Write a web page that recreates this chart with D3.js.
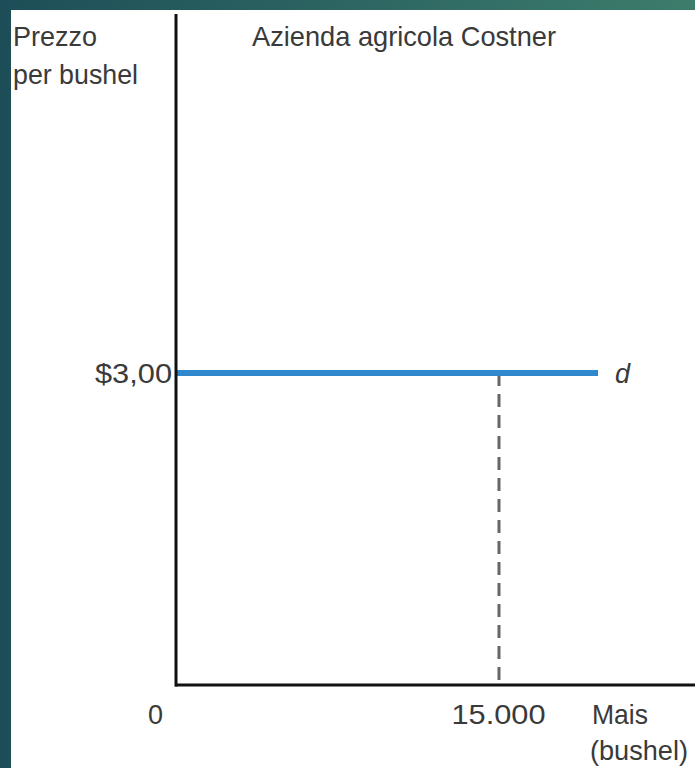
<!DOCTYPE html>
<html><head><meta charset="utf-8">
<script src="https://cdn.jsdelivr.net/npm/d3@7"></script>
<style>html,body{margin:0;padding:0;overflow:hidden;background:#fff}</style>
</head><body>
<script>
// Data
const prices = [3.00];
const quantities = [15000];
const demandRange = [0, 19600];
const priceTicks = ["$3,00"];
const quantityTicks = ["0", "15.000"];
const title = "Azienda agricola Costner";
const yLabel = ["Prezzo", "per bushel"];
const xLabel = ["Mais", "(bushel)"];
const curveLabel = "d";

const W = 695, H = 768;
const svg = d3.select("body").append("svg").attr("width", W).attr("height", H);
const defs = svg.append("defs");
const g1 = defs.append("linearGradient").attr("id","bg").attr("x1","0").attr("x2","1").attr("y1","0").attr("y2","0");
g1.append("stop").attr("offset","0").attr("stop-color","#1d4e58");
g1.append("stop").attr("offset","1").attr("stop-color","#3d7d6c");
svg.append("rect").attr("width",W).attr("height",H).attr("fill","url(#bg)");
svg.append("rect").attr("x",11).attr("y",10).attr("width",W-11).attr("height",H-10).attr("fill","#fff");

const font = "'Liberation Sans', Arial, sans-serif";
const x = d3.scaleLinear().domain([0, 15000]).range([176, 499]);
const y = d3.scaleLinear().domain([0, 3]).range([685, 373]);

// dashed line
svg.append("line")
  .attr("x1", x(quantities[0])).attr("x2", x(quantities[0]))
  .attr("y1", y(prices[0])).attr("y2", y(0))
  .attr("stroke","#666").attr("stroke-width",3).attr("stroke-dasharray","13,8");

// demand line
svg.append("line")
  .attr("x1", x(demandRange[0])).attr("x2", x(demandRange[1]))
  .attr("y1", y(prices[0])).attr("y2", y(prices[0]))
  .attr("stroke","#2f87cc").attr("stroke-width",6);

// axes
svg.append("line").attr("x1",176).attr("x2",176).attr("y1",14).attr("y2",686.5)
  .attr("stroke","#111").attr("stroke-width",3);
svg.append("line").attr("x1",175).attr("x2",W).attr("y1",685).attr("y2",685)
  .attr("stroke","#111").attr("stroke-width",3);

const txt = (s, xx, yy, anchor, len, opts={}) => {
  const t = svg.append("text").text(s)
    .attr("x", xx).attr("y", yy).attr("text-anchor", anchor)
    .attr("font-family", font).attr("font-size", opts.size || 28)
    .attr("font-style", opts.italic ? "italic" : "normal")
    .attr("fill", "#3a3a3a");
  if (len) t.attr("textLength", len).attr("lengthAdjust", "spacingAndGlyphs");
  return t;
};

txt(title, 404, 46, "middle", 304);
txt(yLabel[0], 13, 46, "start", 84);
txt(yLabel[1], 13, 84, "start", 125);
txt(priceTicks[0], 172, y(prices[0]) + 10, "end", 77);
txt(quantityTicks[0], 155.5, 724, "middle", 15);
txt(quantityTicks[1], x(quantities[0]) - 0.5, 724, "middle", 94);
txt(xLabel[0], 592, 724, "start", 56);
txt(xLabel[1], 590, 760, "start", 98);
txt(curveLabel, 615, y(prices[0]) + 10, "start", null, {italic:true, size:27});
</script>
</body></html>
